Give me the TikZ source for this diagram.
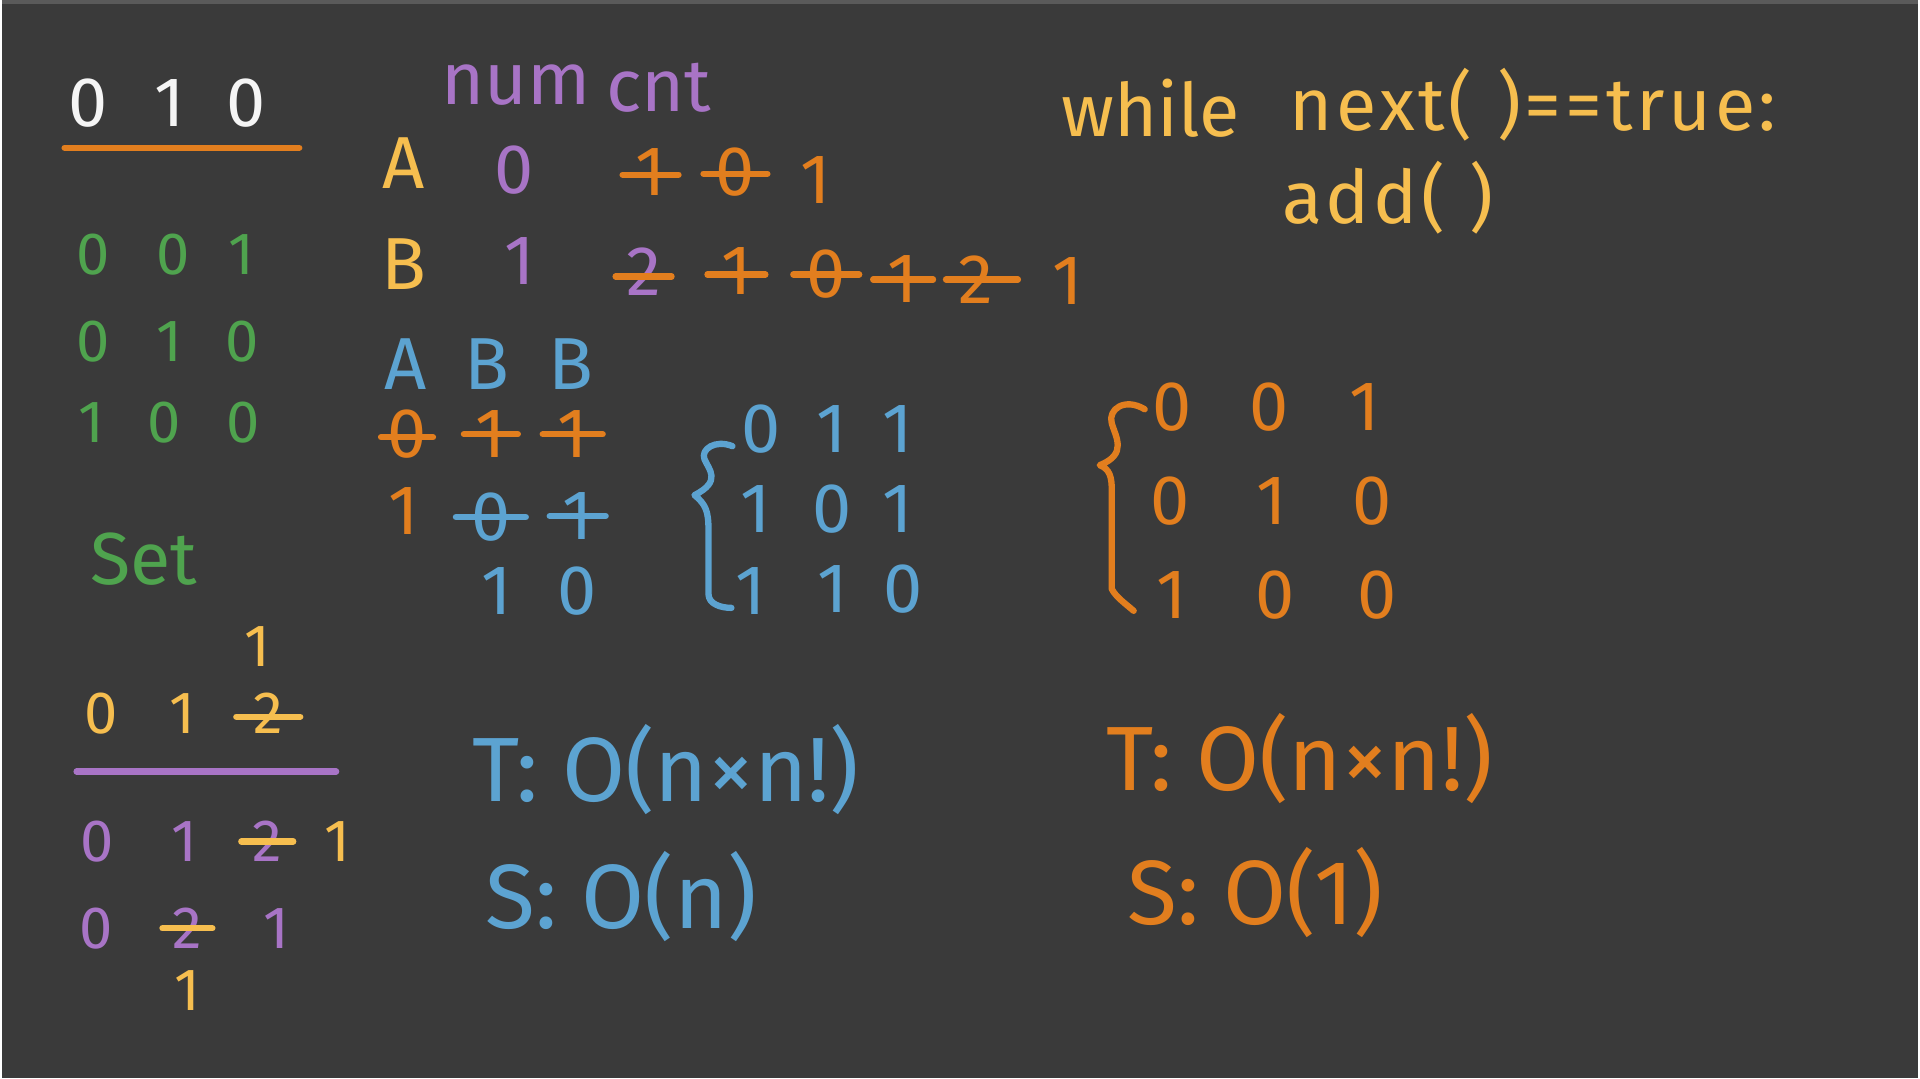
\documentclass[tikz,border=0pt]{standalone}
\usepackage{fontspec}
\setmainfont{Fira Sans}
\usetikzlibrary{calc}
\definecolor{board}{HTML}{3A3A3A}
\definecolor{edge}{HTML}{5A5A5A}
\definecolor{chalk}{HTML}{F5F5F5}
\definecolor{ornge}{HTML}{E27E1E}
\definecolor{yelw}{HTML}{F6BE4F}
\definecolor{purp}{HTML}{A874C6}
\definecolor{grn}{HTML}{4FA34E}
\definecolor{blu}{HTML}{5CA3D1}

\begin{document}
\begin{tikzpicture}[
                x=0.01cm,y=-0.01cm,
                every node/.append style={inner sep=0pt},
                dig/.style={font=\fontsize{17}{20}\selectfont},
                bigdig/.style={font=\fontsize{20}{24}\selectfont},
                word/.style={font=\fontsize{21}{25}\selectfont},
                code/.style={font=\fontsize{21}{25}\selectfont\addfontfeature{LetterSpace=5}},
                cplx/.style={font=\fontsize{26}{31}\selectfont},
                strk/.style={line width=1.8pt,line cap=round},
                brace/.style={line width=1.8pt,line cap=round,line join=round}
            ]
                \fill[board] (0,0) rectangle (1920,1080);
                \draw[edge,line width=1pt] (0,2) -- (1920,2);

                % top left: input and its permutations
                \node[bigdig,chalk] (w1) at (86,103)  {0};
                \node[bigdig,chalk] (w2) at (168,103) {1};
                \node[bigdig,chalk] (w3) at (245,103) {0};
                \draw[strk,ornge] (63,148) -- (298,148);
                \node[dig,grn] (g11) at (92,255)  {0};
                \node[dig,grn] (g12) at (172,255) {0};
                \node[dig,grn] (g13) at (240,255) {1};
                \node[dig,grn] (g21) at (92,342)  {0};
                \node[dig,grn] (g22) at (168,342) {1};
                \node[dig,grn] (g23) at (241,342) {0};
                \node[dig,grn] (g31) at (90,423)  {1};
                \node[dig,grn] (g32) at (163,423) {0};
                \node[dig,grn] (g33) at (242,423) {0};
                \node[word,grn] (set) at (142,560) {Set};

                % bottom left
                \node[dig,yelw] (y0) at (256,648) {1};
                \node[dig,yelw] (s1) at (100,715) {0};
                \node[dig,yelw] (s2) at (181,715) {1};
                \node[dig,yelw] (s3) at (267,715) {2};
                \draw[strk,yelw] ($(s3)+(-32,3)$) -- ($(s3)+(32,3)$);
                \draw[strk,purp] (75,773) -- (335,773);
                \node[dig,purp] (p11) at (96,843)  {0};
                \node[dig,purp] (p12) at (183,843) {1};
                \node[dig,purp] (p13) at (266,843) {2};
                \node[dig,yelw] (p14) at (336,843) {1};
                \draw[strk,yelw] ($(p13)+(-26,0)$) -- ($(p13)+(26,0)$);
                \node[dig,purp] (p21) at (95,930)  {0};
                \node[dig,purp] (p22) at (186,930) {2};
                \node[dig,purp] (p23) at (275,930) {1};
                \node[dig,yelw] (p24) at (186,992) {1};
                \draw[strk,yelw] ($(p22)+(-25,0)$) -- ($(p22)+(25,0)$);

                % num / cnt table
                \node[word,purp] (num) at (515,85) {num};
                \node[word,purp] (cnt) at (658,88) {cnt};
                \node[word,yelw] (A) at (403,163) {A};
                \node[bigdig,purp] (a0) at (513,170) {0};
                \node[bigdig,ornge] (a1) at (650,172) {1};
                \node[bigdig,ornge] (a2) at (735,172) {0};
                \node[bigdig,ornge] (a3) at (815,180) {1};
                \draw[strk,ornge] ($(a1)+(-28,3)$) -- ($(a1)+(28,3)$);
                \draw[strk,ornge] ($(a2)+(-32,2)$) -- ($(a2)+(32,2)$);
                \node[word,yelw] (B) at (403,265) {B};
                \node[bigdig,purp] (b0) at (519,262) {1};
                \node[bigdig,purp] (b1) at (643,272) {2};
                \node[bigdig,ornge] (b2) at (736,272) {1};
                \node[bigdig,ornge] (b3) at (826,275) {0};
                \node[bigdig,ornge] (b4) at (903,280) {1};
                \node[bigdig,ornge] (b5) at (976,280) {2};
                \node[bigdig,ornge] (b6) at (1068,282) {1};
                \draw[strk,ornge] ($(b1)+(-28,5)$) -- ($(b1)+(28,5)$);
                \draw[strk,ornge] ($(b2)+(-29,3)$) -- ($(b2)+(29,3)$);
                \draw[strk,ornge] ($(b3)+(-33,0)$) -- ($(b3)+(33,0)$);
                \draw[strk,ornge] ($(b4)+(-30,0)$) -- ($(b4)+(30,0)$);
                \draw[strk,ornge] ($(b5)+(-30,0)$) -- ($(b5)+(42,0)$);

                % A B B
                \node[word,blu] (h1) at (405,365) {A};
                \node[word,blu] (h2) at (486,365) {B};
                \node[word,blu] (h3) at (570,365) {B};
                \node[bigdig,ornge] (r11) at (406,435) {0};
                \node[bigdig,ornge] (r12) at (490,435) {1};
                \node[bigdig,ornge] (r13) at (572,435) {1};
                \draw[strk,ornge] ($(r11)+(-26,3)$) -- ($(r11)+(26,3)$);
                \draw[strk,ornge] ($(r12)+(-27,0)$) -- ($(r12)+(27,0)$);
                \draw[strk,ornge] ($(r13)+(-30,0)$) -- ($(r13)+(30,0)$);
                \node[bigdig,ornge] (r21) at (403,512) {1};
                \node[bigdig,blu] (r22) at (490,518) {0};
                \node[bigdig,blu] (r23) at (577,517) {1};
                \draw[strk,blu] ($(r22)+(-35,0)$) -- ($(r22)+(35,0)$);
                \draw[strk,blu] ($(r23)+(-28,0)$) -- ($(r23)+(28,0)$);
                \node[bigdig,blu] (r32) at (496,592) {1};
                \node[bigdig,blu] (r33) at (576,592) {0};

                % blue result
                \draw[brace,blu] (732,447) .. controls (715,440) and (700,450) .. (704,460)
                    .. controls (708,470) and (722,482) .. (694,496)
                    .. controls (705,505) and (708,512) .. (708,530) -- (708,595)
                    .. controls (708,605) and (720,609) .. (731,609);
                \node[bigdig,blu] (m11) at (761,430) {0};
                \node[bigdig,blu] (m12) at (831,430) {1};
                \node[bigdig,blu] (m13) at (898,430) {1};
                \node[bigdig,blu] (m21) at (755,510) {1};
                \node[bigdig,blu] (m22) at (832,510) {0};
                \node[bigdig,blu] (m23) at (898,510) {1};
                \node[bigdig,blu] (m31) at (750,592) {1};
                \node[bigdig,blu] (m32) at (832,590) {1};
                \node[bigdig,blu] (m33) at (903,590) {0};

                % next permutation
                \node[word,yelw] (while) at (1151,108) {while};
                \node[code,yelw,anchor=west] (cond) at (1289,105) {next(\,\,)==true:};
                \node[code,yelw,anchor=west] (add) at (1282,198) {add(\,\,)};
                \draw[brace,ornge] (1145,410) .. controls (1125,398) and (1108,410) .. (1112,424)
                    .. controls (1116,438) and (1128,455) .. (1100,466)
                    .. controls (1110,470) and (1112,478) .. (1112,490) -- (1112,590)
                    .. controls (1116,598) and (1126,605) .. (1134,612);
                \node[bigdig,ornge] (o11) at (1172,408) {0};
                \node[bigdig,ornge] (o12) at (1270,408) {0};
                \node[bigdig,ornge] (o13) at (1365,408) {1};
                \node[bigdig,ornge] (o21) at (1170,502) {0};
                \node[bigdig,ornge] (o22) at (1272,502) {1};
                \node[bigdig,ornge] (o23) at (1373,502) {0};
                \node[bigdig,ornge] (o31) at (1172,596) {1};
                \node[bigdig,ornge] (o32) at (1276,596) {0};
                \node[bigdig,ornge] (o33) at (1378,596) {0};

                % complexity
                \node[cplx,blu,anchor=west] (bt) at (471,771) {T: O(n×n!)};
                \node[cplx,blu,anchor=west] (bs) at (484,898) {S: O(n)};
                \node[cplx,ornge,anchor=west] (ot) at (1106,760) {T: O(n×n!)};
                \node[cplx,ornge,anchor=west] (os) at (1127,894) {S: O(1)};
            \end{tikzpicture}
\end{document}
